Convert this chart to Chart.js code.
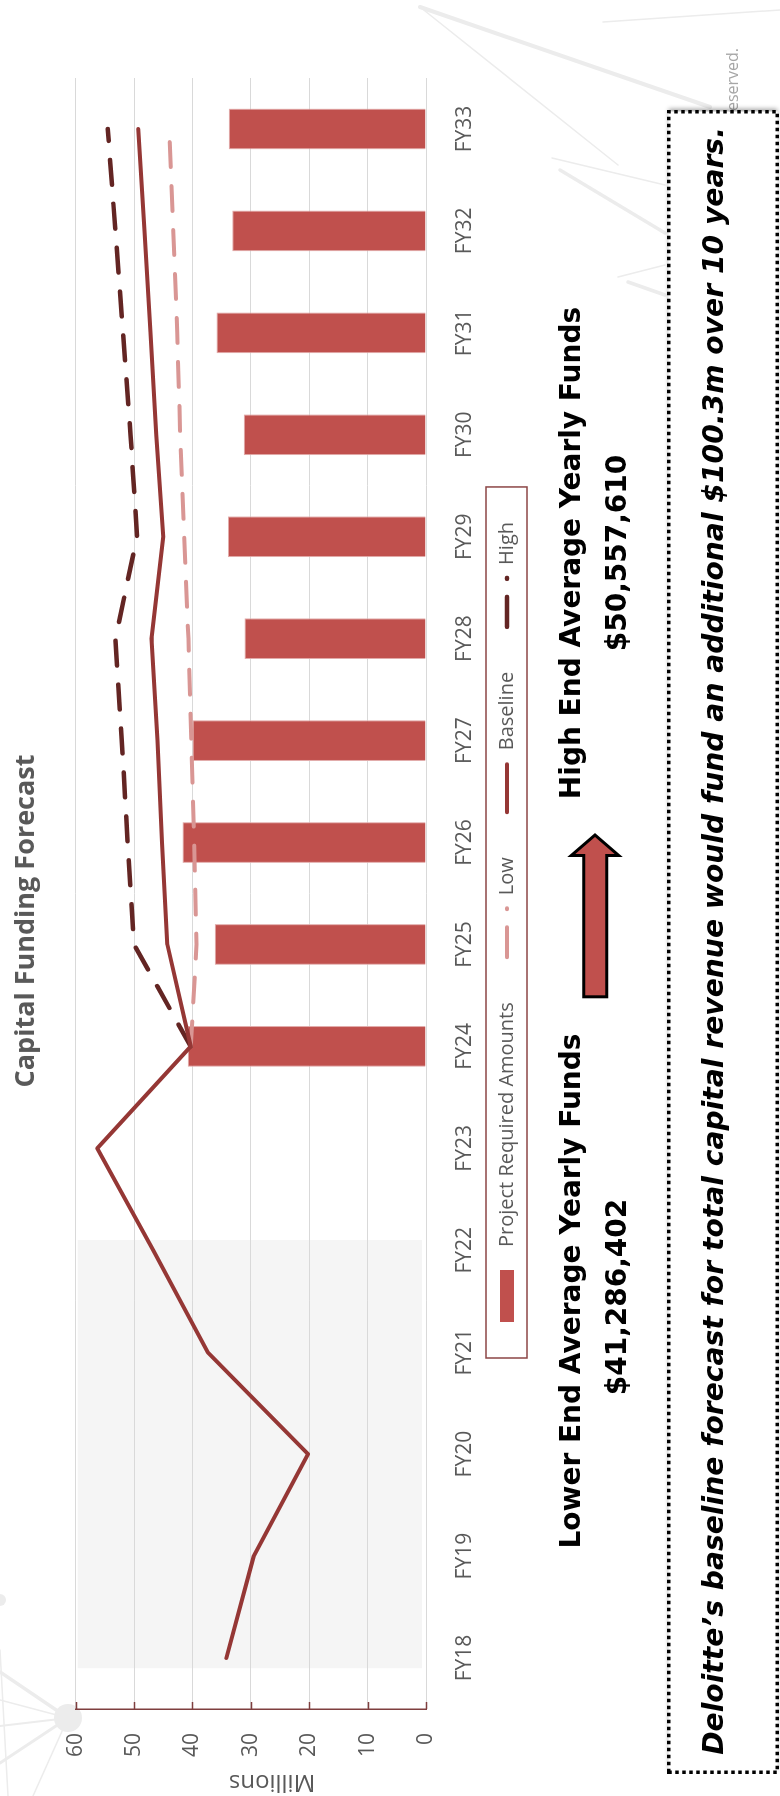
<!DOCTYPE html>
<html>
<head>
<meta charset="utf-8">
<title>Capital Funding Forecast</title>
<script src="https://cdn.jsdelivr.net/npm/chart.js@4.4.1/dist/chart.umd.min.js"></script>
<style>
  html, body { margin: 0; padding: 0; background: #fff; }
  body { width: 780px; height: 1796px; position: relative; overflow: hidden; }
  #deco { position: absolute; left: 0; top: 0; }
  /* the slide is landscape; it is turned a quarter to the left on the page */
  #slide { position: absolute; left: 0; top: 0; width: 1796px; height: 780px;
           transform-origin: 0 0; transform: translateY(1796px) rotate(-90deg); }
  #chart { position: absolute; left: 0; top: 0; }
  #overlay { position: absolute; left: 0; top: 0; }
</style>
</head>
<body>
<svg id="deco" width="780" height="1796">
  <g stroke="#ECECEC" fill="none" stroke-linecap="round">
    <line x1="420" y1="7" x2="710" y2="107" stroke-width="4"/>
    <line x1="420" y1="7" x2="618" y2="165" stroke-width="1.5"/>
    <line x1="603" y1="22" x2="780" y2="10" stroke-width="1.5"/>
    <line x1="552" y1="158" x2="665" y2="185" stroke-width="1.5"/>
    <line x1="560" y1="170" x2="665" y2="233" stroke-width="3.5"/>
    <line x1="618" y1="277" x2="665" y2="265" stroke-width="1.5"/>
    <line x1="628" y1="282" x2="665" y2="295" stroke-width="3.5"/>
    <line x1="68" y1="1718" x2="0" y2="1672" stroke-width="3.5"/>
    <line x1="68" y1="1718" x2="0" y2="1700" stroke-width="1.5"/>
    <line x1="68" y1="1718" x2="0" y2="1726" stroke-width="2"/>
    <line x1="68" y1="1718" x2="0" y2="1763" stroke-width="3"/>
    <line x1="68" y1="1718" x2="33" y2="1796" stroke-width="1.5"/>
    <line x1="0" y1="1650" x2="8" y2="1796" stroke-width="1.5"/>
  </g>
  <circle cx="68" cy="1718" r="14" fill="#ECECEC"/>
  <circle cx="0" cy="1600" r="6" fill="#ECECEC"/>
</svg>

<div id="slide">
  <canvas id="chart" width="1718" height="545"></canvas>
  <svg id="overlay" width="1796" height="780">
    <defs>
      <filter id="shadow" x="-5%" y="-20%" width="110%" height="140%">
        <feDropShadow dx="3" dy="0" stdDeviation="2" flood-color="#000" flood-opacity="0.35"/>
      </filter>
    </defs>
    <g font-family="DejaVu Sans" font-weight="bold" font-size="28" fill="#000" text-anchor="middle">
      <text x="505" y="580">Lower End Average Yearly Funds</text>
      <text x="499" y="626">$41,286,402</text>
      <text x="1243" y="580">High End Average Yearly Funds</text>
      <text x="1243" y="626">$50,557,610</text>
    </g>
    <path d="M799.2 583.8 H940.5 V571.2 L961 595 L940.5 618.8 V606.8 H799.2 Z"
          fill="#C0504D" stroke="#000" stroke-width="3"/>
    <text x="1748" y="738" text-anchor="end" font-family="Open Sans" font-size="16" fill="#A6A6A6">All rights reserved.</text>
    <rect x="23.75" y="668.75" width="1660.5" height="108.5" fill="#fff" filter="url(#shadow)"/>
    <rect x="23.75" y="668.75" width="1660.5" height="108.5" fill="none"
          stroke="#000" stroke-width="3.5" stroke-dasharray="3.5 3.5"/>
    <text x="855" y="723" text-anchor="middle" font-family="DejaVu Sans" font-weight="bold"
          font-style="italic" font-size="28.2" fill="#000">Deloitte’s baseline forecast for total capital revenue would fund an additional $100.3m over 10 years.</text>
  </svg>
</div>

<script>
// fiscal years on the category axis
const years = ['FY18', 'FY19', 'FY20', 'FY21', 'FY22', 'FY23', 'FY24', 'FY25',
               'FY26', 'FY27', 'FY28', 'FY29', 'FY30', 'FY31', 'FY32', 'FY33'];
// values in millions
const requiredAmounts = [null, null, null, null, null, null, 40.8, 36.2, 41.7, 40.0, 31.1, 33.9, 31.2, 35.9, 33.2, 33.8];
const lowForecast = [null, null, null, null, null, null, 40.3, 39.3, 39.7, 40.2, 40.7, 41.4, 42.1, 42.6, 43.3, 44.0];
const baselineForecast = [34.2, 29.5, 20.2, 37.4, 46.7, 56.3, 40.3, 44.3, 45.2, 46.0, 47.0, 45.0, 46.2, 47.2, 48.2, 49.3];
const highForecast = [null, null, null, null, null, null, 40.3, 50.0, 51.1, 52.1, 53.2, 49.5, 50.6, 51.9, 53.2, 54.5];
const valueTicks = [0, 10, 20, 30, 40, 50, 60];
// years with the grey background (actuals)
const historicalYears = ['FY18', 'FY22'];

const grey = '#595959';
const axisRed = '#7F3F3F';
const legendDash = [30, 18];

// grey band behind the historical years
const historyBand = {
    id: 'historyBand',
    beforeDraw(chart) {
        const x = chart.scales.x, a = chart.chartArea, ctx = chart.ctx;
        const x0 = x.getPixelForValue(years.indexOf(historicalYears[0]) - 0.1);
        const x1 = x.getPixelForValue(years.indexOf(historicalYears[1]) + 0.1);
        ctx.save();
        ctx.fillStyle = '#F5F5F5';
        ctx.fillRect(x0, a.top + 2, x1 - x0, a.bottom - a.top - 6);
        ctx.restore();
    }
};

// small tick marks pointing into the plot, the axis title and the boxed legend
const extras = {
    id: 'extras',
    afterDraw(chart) {
        const ctx = chart.ctx, y = chart.scales.y, a = chart.chartArea;
        ctx.save();
        ctx.strokeStyle = axisRed;
        ctx.lineWidth = 1.5;
        y.ticks.forEach(t => {
            const py = Math.round(y.getPixelForValue(t.value)) + 0.5;
            ctx.beginPath();
            ctx.moveTo(a.left, py);
            ctx.lineTo(a.left + 7, py);
            ctx.stroke();
        });

        ctx.fillStyle = grey;
        ctx.font = '24px "Open Sans"';
        ctx.textAlign = 'center';
        ctx.textBaseline = 'middle';
        ctx.translate(14, 272);
        ctx.rotate(-Math.PI / 2);
        ctx.fillText('Millions', 0, 0);
        ctx.restore();

        // legend
        ctx.save();
        ctx.font = '20px "Open Sans"';
        ctx.textBaseline = 'middle';
        ctx.textAlign = 'left';
        const cy = 507;
        let x = 474;
        const start = x;
        let end = x;
        chart.data.datasets.forEach(ds => {
            if (ds.type === 'line') {
                ctx.strokeStyle = ds.borderColor;
                ctx.lineWidth = ds.borderWidth;
                ctx.lineCap = 'round';
                ctx.setLineDash(ds.borderDash ? legendDash : []);
                ctx.beginPath();
                ctx.moveTo(x + 2, cy);
                ctx.lineTo(x + (ds.borderDash ? 51 : 50), cy);
                ctx.stroke();
                ctx.setLineDash([]);
                x += 64;
            } else {
                ctx.fillStyle = ds.backgroundColor;
                ctx.fillRect(x, cy - 7, 52, 14);
                x += 75;
            }
            ctx.fillStyle = grey;
            ctx.fillText(ds.label, x, cy);
            x += ctx.measureText(ds.label).width;
            end = x;
            x += 43;
        });
        ctx.strokeStyle = '#8C4646';
        ctx.lineWidth = 1.5;
        ctx.strokeRect(start - 36, 486, end + 35 - (start - 36), 41);
        ctx.restore();
    }
};

Chart.defaults.font.family = '"Open Sans", sans-serif';

new Chart(document.getElementById('chart'), {
    type: 'bar',
    data: {
        labels: years,
        datasets: [
            {
                type: 'bar',
                label: 'Project Required Amounts',
                data: requiredAmounts,
                backgroundColor: '#C0504D',
                borderColor: '#E2ABAA',
                borderWidth: 1,
                barPercentage: 0.4,
                categoryPercentage: 1,
                order: 2
            },
            {
                type: 'line',
                label: 'Low',
                data: lowForecast,
                borderColor: '#D99694',
                borderWidth: 4,
                borderDash: [25, 19],
                borderCapStyle: 'round',
                borderJoinStyle: 'round',
                pointRadius: 0,
                tension: 0,
                order: 1
            },
            {
                type: 'line',
                label: 'Baseline',
                data: baselineForecast,
                borderColor: '#953735',
                borderWidth: 4,
                borderCapStyle: 'round',
                borderJoinStyle: 'round',
                pointRadius: 0,
                tension: 0,
                order: 0
            },
            {
                type: 'line',
                label: 'High',
                data: highForecast,
                borderColor: '#632523',
                borderWidth: 4.5,
                borderDash: [25, 19],
                borderCapStyle: 'round',
                borderJoinStyle: 'round',
                pointRadius: 0,
                tension: 0,
                order: 1
            }
        ]
    },
    options: {
        responsive: false,
        animation: false,
        devicePixelRatio: 1,
        layout: { padding: { left: 32, right: 0, top: 0, bottom: 0 } },
        plugins: {
            legend: { display: false },
            tooltip: { enabled: false },
            title: {
                display: true,
                text: 'Capital Funding Forecast',
                color: grey,
                font: { size: 27, weight: 'bold' },
                padding: { top: 10, bottom: 33.3 }
            }
        },
        scales: {
            x: {
                grid: { display: false },
                border: { display: false },
                ticks: { color: grey, font: { size: 21 }, padding: 18.5 },
                afterFit(s) { s.height = 119; }
            },
            y: {
                min: valueTicks[0],
                max: valueTicks[valueTicks.length - 1],
                ticks: { stepSize: valueTicks[1] - valueTicks[0], color: grey, font: { size: 21 }, padding: 24 },
                grid: { color: '#D9D9D9', lineWidth: 1, drawTicks: false },
                border: { color: axisRed, width: 1.5 },
                afterFit(s) { s.width = 55; }
            }
        }
    },
    plugins: [historyBand, extras]
});
</script>
</body>
</html>
